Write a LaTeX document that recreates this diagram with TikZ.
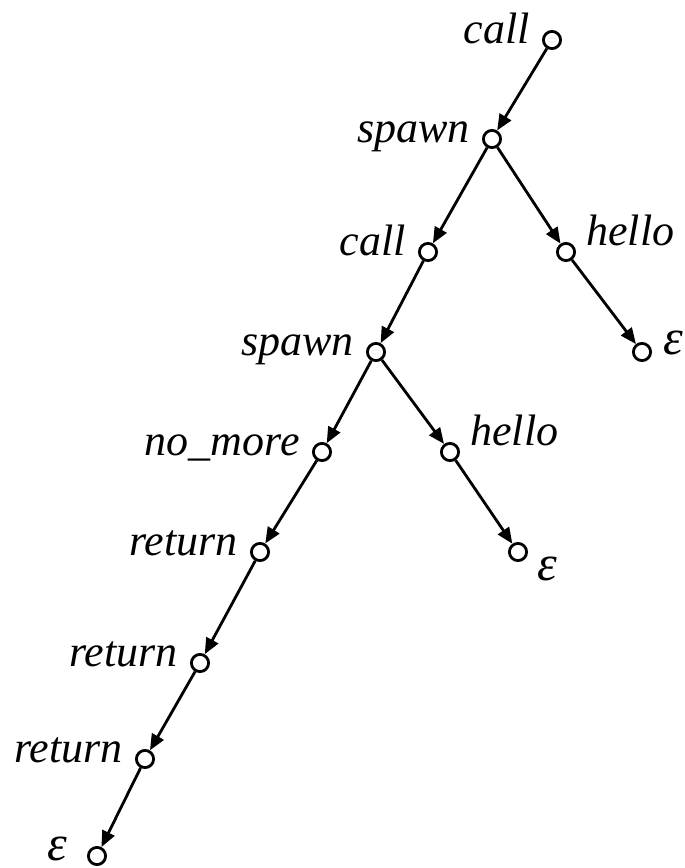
\documentclass[tikz,border=0pt]{standalone}
\usepackage{fontspec}
\setmainfont{Liberation Serif}
\usepackage{tikz}
\usetikzlibrary{arrows.meta}

\begin{document}
\begin{tikzpicture}[
    x=0.5pt, y=-0.5pt,
    st/.style={circle, draw, line width=1.4pt, inner sep=0pt, minimum size=8.6pt, fill=white},
    lab/.style={inner sep=0pt, font=\fontsize{22pt}{26pt}\selectfont\itshape},
    eps/.style={inner sep=0pt, font=\fontsize{25pt}{28pt}\selectfont\itshape},
    ll/.style={lab, anchor=base east, xshift=-11pt, yshift=-1.5pt},
    lr/.style={lab, anchor=base west, xshift=10pt, yshift=3.5pt},
    arrow/.style={-{Triangle[length=8pt, width=6.6pt]}, line width=1.4pt},
]
    \useasboundingbox (0,0) rectangle (685,868);
    % states of the tree
    \node[st] (C1) at (552,40) {};
    \node[st] (S1) at (492,139) {};
    \node[st] (C2) at (428,252) {};
    \node[st] (H1) at (566,252) {};
    \node[st] (E1) at (642,352) {};
    \node[st] (S2) at (376,352) {};
    \node[st] (N)  at (322,452) {};
    \node[st] (H2) at (450,452) {};
    \node[st] (E2) at (518,552) {};
    \node[st] (R1) at (260,552) {};
    \node[st] (R2) at (200,663) {};
    \node[st] (R3) at (145,759) {};
    \node[st] (E3) at (97,856) {};
    % labels
    \node[ll] (lC1) at (C1) {call};
    \node[ll] (lS1) at (S1) {spawn};
    \node[ll] (lC2) at (C2) {call};
    \node[lr] (lH1) at (H1) {hello};
    \node[eps, anchor=base west, xshift=10.5pt, yshift=-1pt] (lE1) at (E1) {ε};
    \node[ll] (lS2) at (S2) {spawn};
    \node[ll] (lN)  at (N)  {no\_more};
    \node[lr] (lH2) at (H2) {hello};
    \node[eps, anchor=base west, xshift=9.5pt, yshift=-14pt] (lE2) at (E2) {ε};
    \node[ll] (lR1) at (R1) {return};
    \node[ll] (lR2) at (R2) {return};
    \node[ll] (lR3) at (R3) {return};
    \node[eps, anchor=base east, xshift=-14.5pt, yshift=-2pt] (lE3) at (E3) {ε};
    % transitions
    \draw[arrow] (C1) -- (S1);
    \draw[arrow] (S1) -- (C2);
    \draw[arrow] (S1) -- (H1);
    \draw[arrow] (H1) -- (E1);
    \draw[arrow] (C2) -- (S2);
    \draw[arrow] (S2) -- (N);
    \draw[arrow] (S2) -- (H2);
    \draw[arrow] (H2) -- (E2);
    \draw[arrow] (N) -- (R1);
    \draw[arrow] (R1) -- (R2);
    \draw[arrow] (R2) -- (R3);
    \draw[arrow] (R3) -- (E3);
\end{tikzpicture}
\end{document}
